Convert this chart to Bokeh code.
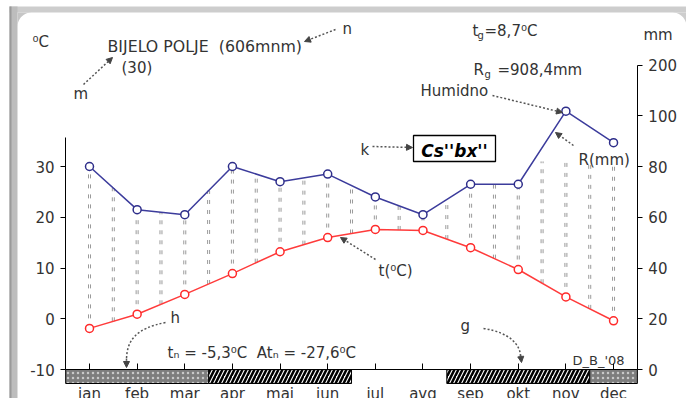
import numpy as np
from bokeh.plotting import figure
from bokeh.models import LinearAxis, FixedTicker, Arrow, NormalHead, Range1d
from bokeh.embed import file_html
from bokeh.resources import INLINE
from bokeh.core.properties import value

# ---------------- data ----------------
months = ["jan", "feb", "mar", "apr", "maj", "jun", "jul", "avg", "sep", "okt", "nov", "dec"]
temp_c = [-1.9, 0.9, 4.8, 8.9, 13.2, 16.0, 17.6, 17.4, 14.0, 9.7, 4.3, -0.4]
precip_mm = [80, 63, 61, 80, 74, 77, 68, 61, 73, 73, 109, 89.4]
frost = ["abs", "abs", "abs", "prob", "prob", "prob", "none", "none", "prob", "prob", "prob", "abs"]
temp_ticks = [-10, 0, 10, 20, 30]
precip_ticks = [0, 20, 40, 60, 80, 100, 200]

# ---------------- layout helpers (page pixels -> data) ----------------
X0, DX = 89.0, 47.64          # page x of jan, px per month
Y0, DY = 369.0, 5.075         # page y of -10 degC, px per degC
W, H = 686, 398
def PX(px):
    return (px - X0) / DX
def PY(py):
    return (Y0 - py) / DY - 10

def mm_to_axis(mm):
    return mm / 2.0 - 10 if mm <= 100 else 40 + (mm - 100) / 10.0

FONT = "DejaVu Sans"
TXT = "#333333"

p = figure(width=W, height=H, output_backend="svg", toolbar_location=None,
           x_range=Range1d(PX(0), PX(W)), y_range=Range1d(PY(H), PY(0)),
           x_axis_type=None, y_axis_type=None,
           min_border_left=0, min_border_top=0, min_border_right=0, min_border_bottom=0,
           border_fill_color="white", background_fill_color="white",
           outline_line_color=None)
p.grid.visible = False

# ---------------- page frame (decoration) ----------------
p.quad(left=PX(9), right=PX(W), top=PY(6), bottom=PY(12), fill_color="#cdcdcd", line_color=None)
p.quad(left=PX(9), right=PX(17), top=PY(6), bottom=PY(H), fill_color="#bdbdbd", line_color=None)
p.quad(left=PX(9), right=PX(11), top=PY(6), bottom=PY(H), fill_color="#9a9a9a", line_color=None)
rad = 14
ang = np.linspace(np.pi / 2, np.pi, 12)
cx, cy = 17 + rad, 12 + rad
tl_x = [17, cx] + list(cx + rad * np.cos(ang)) + [17]
tl_y = [12, 12] + list(cy - rad * np.sin(ang)) + [12 + rad]
p.patch([PX(v) for v in tl_x], [PY(v) for v in tl_y], fill_color="#c6c6c6", line_color=None)
ang2 = np.linspace(0, np.pi / 2, 12)
cx2 = W - rad
tr_x = [W, W] + list(cx2 + rad * np.cos(ang2)) + [cx2]
tr_y = [12, 12 + rad] + list(cy - rad * np.sin(ang2)) + [12]
p.patch([PX(v) for v in tr_x], [PY(v) for v in tr_y], fill_color="#cdcdcd", line_color=None)

xi = np.arange(len(months))
t = np.array(temp_c, dtype=float)
r_eq = np.array([mm_to_axis(v) for v in precip_mm])

# ---------------- humid-period columns ----------------
xc = np.arange(0, len(months) - 0.99, 0.5)
tc = np.interp(xc, xi, t)
rc = np.minimum(np.interp(xc, xi, r_eq), 31)
off = 1.0 / DX
for dx in (-off, off):
    p.segment(x0=xc + dx, y0=tc, x1=xc + dx, y1=rc, line_color="#9a9a9a",
              line_width=1, line_dash="4 6")

# ---------------- frost band ----------------
runs = []
start = 0
for i in range(1, len(frost) + 1):
    if i == len(frost) or frost[i] != frost[start]:
        runs.append((frost[start], start - 0.5, i - 0.5))
        start = i
band_top, band_bot = -10, PY(383)
for kind, l, r in runs:
    if kind == "abs":
        p.quad(left=l, right=r, top=band_top, bottom=band_bot, fill_color="#7d7d7d",
               hatch_pattern="dot", hatch_color="#c9c9c9", hatch_scale=5, hatch_weight=1,
               line_color="black", line_width=1)
    elif kind == "prob":
        p.quad(left=l, right=r, top=band_top, bottom=band_bot, fill_color="white",
               hatch_pattern="right_diagonal_line", hatch_color="black", hatch_scale=8,
               hatch_weight=2.5, line_color="black", line_width=1)

# ---------------- curves ----------------
p.line(xi, r_eq, line_color="#3c3c9c", line_width=1.5)
p.scatter(xi, r_eq, marker="circle", size=8, fill_color="white", line_color="#2e2e8a", line_width=1.5)
p.line(xi, t, line_color="#ff3b3b", line_width=1.5)
p.scatter(xi, t, marker="circle", size=8, fill_color="white", line_color="#ff2a2a", line_width=1.5)

# ---------------- axes ----------------
common = dict(major_label_text_font=FONT, major_label_text_font_size="15px",
              major_label_text_color=TXT, axis_line_color="black", major_tick_line_color="black",
              minor_tick_in=0, minor_tick_out=0)
yl = LinearAxis(fixed_location=-0.5, ticker=FixedTicker(ticks=temp_ticks),
                bounds=(-10, PY(137)), major_tick_in=0, major_tick_out=5,
                major_label_standoff=6,
                major_label_overrides={v: str(v) for v in temp_ticks}, **common)
p.add_layout(yl, "left")

rt = [int(round(mm_to_axis(v))) for v in precip_ticks]
yr = LinearAxis(fixed_location=len(months) - 0.5, ticker=FixedTicker(ticks=rt),
                bounds=(rt[0], rt[-1]), major_tick_in=0, major_tick_out=5,
                major_label_standoff=6,
                major_label_overrides={k: str(v) for k, v in zip(rt, precip_ticks)}, **common)
p.add_layout(yr, "right")

xa = LinearAxis(fixed_location=-10, ticker=FixedTicker(ticks=list(range(len(months)))),
                bounds=(-0.5, len(months) - 0.5), major_tick_in=6, major_tick_out=0,
                major_label_standoff=15,
                major_label_overrides={i: m for i, m in enumerate(months)}, **common)
p.add_layout(xa, "below")

# ---------------- annotations ----------------
def txt(items, size="15px", style="normal", dy=2):
    p.text(x=[PX(a) for a, b, c in items], y=[PY(b + dy) for a, b, c in items],
           text=[c for a, b, c in items], text_font=value(FONT), text_font_size=value(size),
           text_font_style=style, text_color=TXT, text_baseline="middle", text_align="left")

txt([(107, 44, "BIJELO POLJE\u00a0 (606mnm)")], size="15.8px")
txt([(32, 39, "⁰C"), (121, 65, "(30)"),
     (73, 91, "m"), (342, 26, "n"), (472, 28, "t"), (484, 28, "=8,7⁰C"),
     (643, 32, "mm"), (473, 67, "R"), (497, 67, "=908,4mm"), (420, 88, "Humidno"),
     (360, 147, "k"), (578, 157, "R(mm)"), (378, 268, "t(⁰C)"), (170, 315, "h"),
     (167, 350, "tₙ = -5,3⁰C\u00a0 Atₙ = -27,6⁰C"), (460, 323, "g")])
txt([(477, 33, "g"), (484, 72, "g")], size="10px")
txt([(572, 358, "D_B_'08")], size="13px")

p.quad(left=PX(413), right=PX(495), top=PY(135), bottom=PY(161), fill_color="white",
       line_color="black", line_width=1.3)
p.text(x=[PX(454)], y=[PY(150)], text=["Cs''bx''"], text_font=value(FONT),
       text_font_size=value("17px"), text_font_style="bold italic", text_color="black",
       text_align="center", text_baseline="middle")

arrows = [((83, 84), (112, 57)), ((335, 29), (304, 41)), ((492, 95), (562, 112)),
          ((372, 146), (412, 147)), ((573, 145), (555, 132)), ((375, 259), (340, 237)),
          ((126, 358), (126, 367)), ((520, 354), (521, 362))]
for (xs_, ys_), (xe_, ye_) in arrows:
    p.add_layout(Arrow(end=NormalHead(size=6, fill_color="#444", line_color="#444"),
                       x_start=PX(xs_), y_start=PY(ys_), x_end=PX(xe_), y_end=PY(ye_),
                       line_color="#555", line_width=1.5, line_dash="2 2"))
p.bezier(x0=[PX(165), PX(483)], y0=[PY(322), PY(328)], x1=[PX(126), PX(520)],
         y1=[PY(360), PY(356)], cx0=[PX(135), PX(510)], cy0=[PY(328), PY(332)],
         cx1=[PX(126), PX(520)], cy1=[PY(340), PY(345)], line_color="#555",
         line_width=1.5, line_dash="2 2")

open("out.html", "w").write(file_html(p, INLINE))
